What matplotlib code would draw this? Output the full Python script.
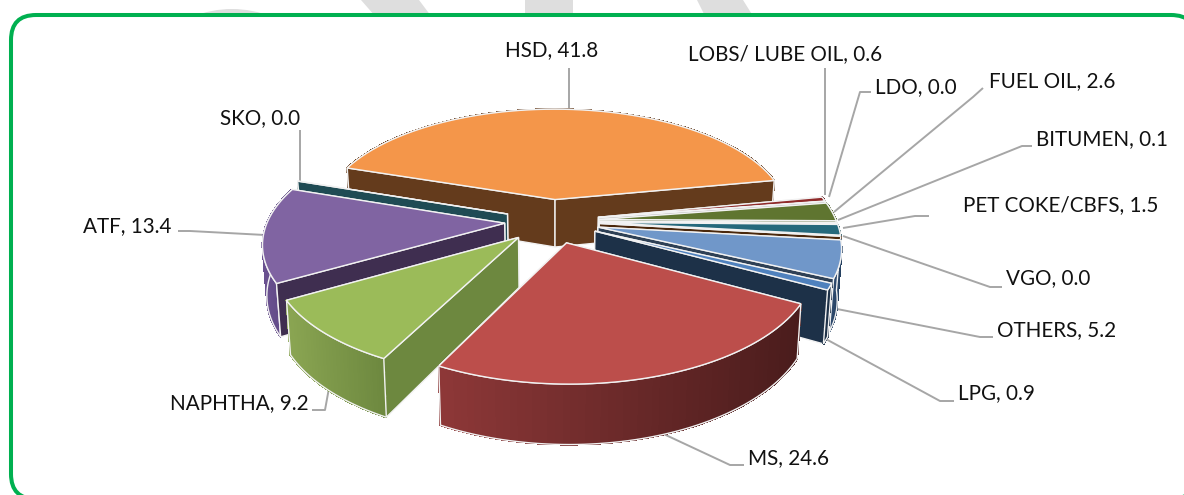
import numpy as np
import matplotlib
matplotlib.use('Agg')
import matplotlib.pyplot as plt
from matplotlib.patches import FancyBboxPatch, Polygon
from matplotlib.colors import to_rgb

# Datos de la torta, en orden horario desde HSD
products = ['HSD', 'LOBS/ LUBE OIL', 'LDO', 'FUEL OIL', 'BITUMEN', 'PET COKE/CBFS', 'VGO',
            'OTHERS', 'LPG', 'MS', 'NAPHTHA', 'ATF', 'SKO']
shares = [41.8, 0.6, 0.0, 2.6, 0.1, 1.5, 0.0, 5.2, 0.9, 24.6, 9.2, 13.4, 0.0]

top_colors = ['#F4964A', '#8F2A2A', '#C9C9C9', '#5F7530', '#EFEFEF', '#25697C', '#6B3A12',
              '#7097C9', '#4F81BD', '#BC4E4B', '#9BBB59', '#8064A2', '#4BACC6']
side_colors = ['#643B1C', '#5A1C1C', '#888888', '#4C5F26', '#AAAAAA', '#1A4A58', '#4A280C',
               '#2E4055', '#1D3148', '#4E1F1F', '#6D883F', '#3F2E50', '#1F4B54']
rim_left = ['#643B1C', '#5A1C1C', '#888888', '#4C5F26', '#AAAAAA', '#1A4A58', '#4A280C',
            '#2E4A6E', '#1D3148', '#8E3838', '#8AA552', '#6A5190', '#1F4B54']
rim_right = ['#643B1C', '#5A1C1C', '#888888', '#4C5F26', '#AAAAAA', '#1A4A58', '#4A280C',
             '#25405F', '#1D3148', '#4A1C1C', '#6D883F', '#5A4480', '#1F4B54']

# etiqueta: x izquierda, y centro, puntos de la guia
label_pos = [(505, 50), (688, 54), (875, 87), (989, 81), (1036, 139), (963, 205), (1006, 278),
             (997, 330), (958, 393), (748, 458), (170, 403), (83, 226), (220, 118)]
leaders = [[(569, 68), (569, 110)],
           [(825, 68), (825, 195)],
           [(871, 92), (860, 92), (829, 197)],
           [(983, 88), (973, 97), (834, 212)],
           [(1032, 146), (1022, 146), (838, 220)],
           [(929, 216), (915, 216), (843, 228)],
           [(1002, 287), (990, 287), (843, 236)],
           [(993, 337), (980, 337), (837, 309)],
           [(954, 401), (940, 401), (824, 338)],
           [(744, 465), (730, 465), (655, 430)],
           [(312, 410), (325, 410), (329, 388)],
           [(178, 231), (190, 231), (265, 235)],
           [(300, 130), (300, 182)]]

# orden de pintado: atras hacia adelante
draw_order = [0, 1, 2, 3, 4, 5, 6, 7, 8, 12, 11, 10, 9]

start_angle = 161.5
explode = 0.2
cx, cy = 552, 221
radius = 237
tilt = 111
persp = 0.159
depth = 49

plt.rcParams['font.family'] = ['Lato', 'DejaVu Sans']
fig = plt.figure(figsize=(11.84, 4.95), dpi=100)
ax = fig.add_axes([0, 0, 1, 1])
ax.set_xlim(0, 1184)
ax.set_ylim(495, 0)
ax.axis('off')


def project(x, y):
    s = 1 / (1 + persp * y)
    return cx + radius * s * x, cy - tilt * s * y, s


def top_pt(x, y):
    px, py, s = project(x, y)
    return px, py


def low_pt(x, y):
    px, py, s = project(x, y)
    return cx + (px - cx) * 0.985, py + depth * s


def mix(a, b, t):
    a, b = np.array(to_rgb(a)), np.array(to_rgb(b))
    return tuple(a + (b - a) * t)


def draw_slice(i, a0, a1):
    mid = np.radians((a0 + a1) / 2)
    ox, oy = explode * np.cos(mid), explode * np.sin(mid)
    angs = np.radians(np.linspace(a0, a1, 60))
    xs = ox + np.cos(angs)
    ys = oy + np.sin(angs)
    rim_top = [top_pt(x, y) for x, y in zip(xs, ys)]
    rim_low = [low_pt(x, y) for x, y in zip(xs, ys)]
    apex_top, apex_low = top_pt(ox, oy), low_pt(ox, oy)

    def side(k):
        return [apex_top, rim_top[k], rim_low[k], apex_low]

    def draw_rim():
        for j in range(len(angs) - 1):
            t = (rim_top[j][0] - min(p[0] for p in rim_top)) / max(1, np.ptp([p[0] for p in rim_top]))
            c = mix(rim_left[i], rim_right[i], t)
            ax.add_patch(Polygon([rim_top[j], rim_top[j + 1], rim_low[j + 1], rim_low[j]],
                                 fc=c, ec=c, lw=0.8, antialiased=False, zorder=order))
        ax.add_patch(Polygon(rim_top + rim_low[::-1], fc='none', ec='#F2F2F2', lw=1.0, zorder=order))

    def draw_side(k):
        ax.add_patch(Polygon(side(k), fc=side_colors[i], ec='#F2F2F2', lw=1.0, zorder=order))

    # se pinta primero la cara que queda mas atras
    walls = [(np.mean([oy, ys[0]]), lambda: draw_side(0)),
             (np.mean([oy, ys[-1]]), lambda: draw_side(-1)),
             (np.mean(ys), draw_rim)]
    walls.sort(key=lambda w: -w[0])
    for _, fn in walls:
        fn()
    ax.add_patch(Polygon([apex_top] + rim_top, fc=top_colors[i], ec='#F2F2F2', lw=1.0, zorder=order))


# marca de agua gris detras del marco verde
for xa, xb, xc, xd in [(361, 419, 431, 375), (525, 573, 573, 525), (697, 743, 753, 705)]:
    ax.fill([xa, xb, xc, xd], [0, 0, 16, 16], color='#DEDEDE', lw=0, zorder=0)
ax.add_patch(plt.Circle((232, 114), 105, fc='#DEDEDE', lw=0, zorder=0))
frame = FancyBboxPatch((11, 15), 1185, 484, boxstyle='round,pad=0,rounding_size=25',
                       fc='white', ec='#00B050', lw=2.9, zorder=1)
ax.add_patch(frame)

total = sum(shares)
angle = start_angle
order = 2
spans = []
for v in shares:
    spans.append((angle, angle - v / total * 360))
    angle = spans[-1][1]

for pts in leaders:
    ax.plot([p[0] for p in pts], [p[1] for p in pts], color='#A6A6A6', lw=1.4, zorder=1.5,
            solid_capstyle='butt')

for n, i in enumerate(draw_order):
    order = 2 + n
    draw_slice(i, spans[i][0], spans[i][1])

for name, v, (lx, ly) in zip(products, shares, label_pos):
    ax.text(lx, ly, f'{name}, {v:.1f}', fontsize=14.9, color='#111111', ha='left', va='center', zorder=30)

fig.savefig('out.png', dpi=100)
